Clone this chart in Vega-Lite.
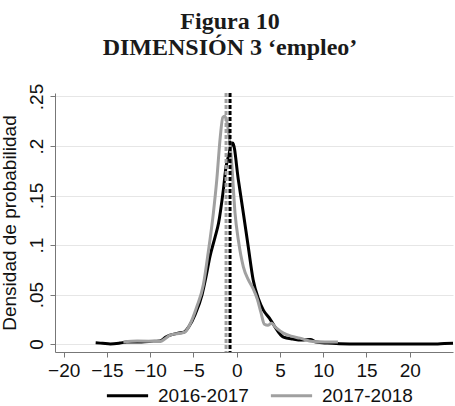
{
  "$schema": "https://vega.github.io/schema/vega-lite/v6.json",
  "autosize": "none",
  "width": 398,
  "height": 259,
  "padding": {"left": 55, "top": 93, "right": 2, "bottom": 54},
  "background": "white",
  "title": {
    "text": ["Figura 10", "DIMENSIÓN 3 ‘empleo’"],
    "font": "Liberation Serif",
    "fontSize": 24,
    "fontWeight": "bold",
    "color": "#1a1a1a",
    "lineHeight": 26,
    "anchor": "middle",
    "dx": -24,
    "offset": 23
  },
  "config": {
    "view": {"stroke": null},
    "font": "Liberation Sans",
    "axis": {
      "labelFont": "Liberation Sans",
      "titleFont": "Liberation Sans",
      "labelFontSize": 19,
      "titleFontSize": 19,
      "titleFontWeight": "normal",
      "labelColor": "#111111",
      "titleColor": "#111111",
      "domainColor": "#777777",
      "tickColor": "#777777",
      "tickSize": 5,
      "gridColor": "#e6e6e6",
      "gridWidth": 1
    }
  },
  "datasets": {
    "curves": [
      {"x": -16.3, "y": 0.0013, "serie": "2016-2017"},
      {"x": -15.5, "y": 0.0008, "serie": "2016-2017"},
      {"x": -14.6, "y": 0.0002, "serie": "2016-2017"},
      {"x": -13.5, "y": 0.001, "serie": "2016-2017"},
      {"x": -12.7, "y": 0.002, "serie": "2016-2017"},
      {"x": -11, "y": 0.0022, "serie": "2016-2017"},
      {"x": -9.5, "y": 0.0028, "serie": "2016-2017"},
      {"x": -8.85, "y": 0.003, "serie": "2016-2017"},
      {"x": -8.2, "y": 0.007, "serie": "2016-2017"},
      {"x": -7.7, "y": 0.009, "serie": "2016-2017"},
      {"x": -6.8, "y": 0.011, "serie": "2016-2017"},
      {"x": -6.1, "y": 0.012, "serie": "2016-2017"},
      {"x": -5.5, "y": 0.018, "serie": "2016-2017"},
      {"x": -4.8, "y": 0.03, "serie": "2016-2017"},
      {"x": -4.0, "y": 0.05, "serie": "2016-2017"},
      {"x": -3.5, "y": 0.07, "serie": "2016-2017"},
      {"x": -3.1, "y": 0.088, "serie": "2016-2017"},
      {"x": -2.5, "y": 0.108, "serie": "2016-2017"},
      {"x": -2.1, "y": 0.122, "serie": "2016-2017"},
      {"x": -1.54, "y": 0.156, "serie": "2016-2017"},
      {"x": -1.23, "y": 0.179, "serie": "2016-2017"},
      {"x": -0.97, "y": 0.189, "serie": "2016-2017"},
      {"x": -0.45, "y": 0.203, "serie": "2016-2017"},
      {"x": 0.19, "y": 0.166, "serie": "2016-2017"},
      {"x": 0.77, "y": 0.132, "serie": "2016-2017"},
      {"x": 1.34, "y": 0.098, "serie": "2016-2017"},
      {"x": 1.9, "y": 0.065, "serie": "2016-2017"},
      {"x": 2.5, "y": 0.046, "serie": "2016-2017"},
      {"x": 3.1, "y": 0.034, "serie": "2016-2017"},
      {"x": 3.8, "y": 0.026, "serie": "2016-2017"},
      {"x": 4.3, "y": 0.019, "serie": "2016-2017"},
      {"x": 5.4, "y": 0.007, "serie": "2016-2017"},
      {"x": 6.5, "y": 0.005, "serie": "2016-2017"},
      {"x": 7.5, "y": 0.004, "serie": "2016-2017"},
      {"x": 8.5, "y": 0.0045, "serie": "2016-2017"},
      {"x": 9.2, "y": 0.002, "serie": "2016-2017"},
      {"x": 10.5, "y": 0.001, "serie": "2016-2017"},
      {"x": 11.9, "y": 0.0004, "serie": "2016-2017"},
      {"x": 14, "y": 0.0, "serie": "2016-2017"},
      {"x": 17, "y": 0.0, "serie": "2016-2017"},
      {"x": 20, "y": 0.0, "serie": "2016-2017"},
      {"x": 23, "y": 0.0, "serie": "2016-2017"},
      {"x": 24, "y": 0.0007, "serie": "2016-2017"},
      {"x": 25, "y": 0.0009, "serie": "2016-2017"},
      {"x": -13.1, "y": 0.002, "serie": "2017-2018"},
      {"x": -11.5, "y": 0.003, "serie": "2017-2018"},
      {"x": -10, "y": 0.0028, "serie": "2017-2018"},
      {"x": -8.85, "y": 0.0025, "serie": "2017-2018"},
      {"x": -8.2, "y": 0.006, "serie": "2017-2018"},
      {"x": -7.7, "y": 0.009, "serie": "2017-2018"},
      {"x": -6.5, "y": 0.011, "serie": "2017-2018"},
      {"x": -6.0, "y": 0.012, "serie": "2017-2018"},
      {"x": -5.4, "y": 0.02, "serie": "2017-2018"},
      {"x": -4.6, "y": 0.038, "serie": "2017-2018"},
      {"x": -3.85, "y": 0.06, "serie": "2017-2018"},
      {"x": -3.3, "y": 0.092, "serie": "2017-2018"},
      {"x": -2.7, "y": 0.132, "serie": "2017-2018"},
      {"x": -2.3, "y": 0.166, "serie": "2017-2018"},
      {"x": -1.9, "y": 0.209, "serie": "2017-2018"},
      {"x": -1.6, "y": 0.229, "serie": "2017-2018"},
      {"x": -1.35, "y": 0.23, "serie": "2017-2018"},
      {"x": -1.08, "y": 0.222, "serie": "2017-2018"},
      {"x": -0.58, "y": 0.183, "serie": "2017-2018"},
      {"x": -0.19, "y": 0.132, "serie": "2017-2018"},
      {"x": 0.19, "y": 0.105, "serie": "2017-2018"},
      {"x": 0.77, "y": 0.078, "serie": "2017-2018"},
      {"x": 1.34, "y": 0.065, "serie": "2017-2018"},
      {"x": 1.9, "y": 0.056, "serie": "2017-2018"},
      {"x": 2.4, "y": 0.045, "serie": "2017-2018"},
      {"x": 2.8, "y": 0.032, "serie": "2017-2018"},
      {"x": 3.2, "y": 0.02, "serie": "2017-2018"},
      {"x": 3.6, "y": 0.019, "serie": "2017-2018"},
      {"x": 4.0, "y": 0.021, "serie": "2017-2018"},
      {"x": 4.6, "y": 0.016, "serie": "2017-2018"},
      {"x": 5.4, "y": 0.011, "serie": "2017-2018"},
      {"x": 6.3, "y": 0.008, "serie": "2017-2018"},
      {"x": 7.3, "y": 0.006, "serie": "2017-2018"},
      {"x": 8.8, "y": 0.0025, "serie": "2017-2018"},
      {"x": 10.2, "y": 0.002, "serie": "2017-2018"},
      {"x": 11.7, "y": 0.002, "serie": "2017-2018"}
    ],
    "means": [
      {"x": -1.23, "serie": "2017-2018"},
      {"x": -0.77, "serie": "2016-2017"}
    ]
  },
  "layer": [
    {
      "data": {"name": "curves"},
      "mark": {"type": "line", "strokeWidth": 3, "interpolate": "monotone", "clip": true},
      "encoding": {
        "x": {
          "field": "x", "type": "quantitative",
          "scale": {"domain": [-21, 25], "nice": false, "zero": false},
          "axis": {"values": [-20, -15, -10, -5, 0, 5, 10, 15, 20], "title": null, "grid": false, "labelPadding": 4, "labelFlush": false}
        },
        "y": {
          "field": "y", "type": "quantitative",
          "scale": {"domain": [-0.008, 0.2535], "nice": false, "zero": false},
          "axis": {
            "values": [0, 0.05, 0.1, 0.15, 0.2, 0.25],
            "title": "Densidad de probabilidad",
            "grid": true,
            "labelAngle": 270,
            "labelAlign": "center",
            "labelBaseline": "bottom",
            "labelPadding": 4,
            "labelFlush": false,
            "titlePadding": 8,
            "labelExpr": "datum.value == 0 ? '0' : replace(format(datum.value, '.2~f'), '0.', '.')"
          }
        },
        "color": {
          "field": "serie", "type": "nominal",
          "scale": {"domain": ["2016-2017", "2017-2018"], "range": ["#000000", "#a0a0a0"]},
          "legend": {
            "title": null,
            "orient": "none",
            "direction": "horizontal",
            "legendX": 50,
            "legendY": 280,
            "symbolType": "stroke",
            "symbolSize": 1700,
            "symbolStrokeWidth": 3,
            "labelFont": "Liberation Sans",
            "labelFontSize": 19,
            "labelColor": "#111111",
            "labelOffset": 8,
            "columnPadding": 15,
            "padding": 0
          }
        },
        "order": {"field": "x", "type": "quantitative"}
      }
    },
    {
      "data": {"name": "means"},
      "mark": {"type": "rule", "strokeWidth": 3, "strokeDash": [4, 2]},
      "encoding": {
        "x": {"field": "x", "type": "quantitative"},
        "color": {"field": "serie", "type": "nominal"}
      }
    }
  ]
}
